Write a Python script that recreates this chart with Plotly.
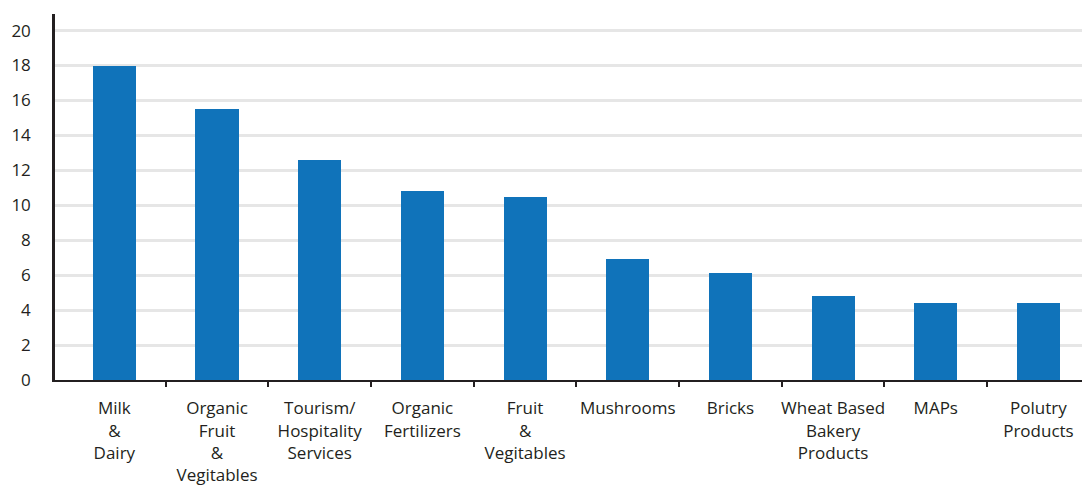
import plotly.graph_objects as go

categories = ["Milk<br>&<br>Dairy", "Organic<br>Fruit<br>&<br>Vegitables", "Tourism/<br>Hospitality<br>Services",
              "Organic<br>Fertilizers", "Fruit<br>&<br>Vegitables", "Mushrooms", "Bricks",
              "Wheat Based<br>Bakery<br>Products", "MAPs", "Polutry<br>Products"]
values = [18.0, 15.5, 12.6, 10.8, 10.5, 6.9, 6.1, 4.8, 4.4, 4.4]
y_ticks = [0, 2, 4, 6, 8, 10, 12, 14, 16, 18, 20]

xpos = list(range(len(categories)))
boundaries = [i + 0.5 for i in range(len(categories) - 1)]

FONT = "Open Sans"
fig = go.Figure()
fig.add_trace(go.Bar(x=xpos, y=values, width=0.42, marker=dict(color="#1073BA", line=dict(width=0)),
                     showlegend=False, hoverinfo="skip"))
# invisible trace to carry the boundary-tick axis
fig.add_trace(go.Scatter(x=[xpos[0], xpos[-1]], y=[0, 0], xaxis="x2", mode="markers",
                         marker=dict(opacity=0), showlegend=False, hoverinfo="skip"))

xr = [-0.578, 9.424]
fig.update_layout(
    width=1082, height=486,
    margin=dict(l=55, r=0, t=14, b=106),
    paper_bgcolor="white", plot_bgcolor="white",
    font=dict(family=FONT, color="#231f20"),
    xaxis=dict(range=xr, tickmode="array", tickvals=xpos, ticktext=categories,
               ticks="", showgrid=False, zeroline=False,
               showline=True, linecolor="#231f20", linewidth=2,
               tickfont=dict(size=17, family=FONT, color="#231f20"), ticklabelstandoff=12),
    xaxis2=dict(range=xr, overlaying="x", side="bottom", tickmode="array", tickvals=boundaries,
                ticktext=[""] * len(boundaries), ticks="outside", ticklen=6, tickwidth=2,
                tickcolor="#231f20", showgrid=False, zeroline=False, showline=False),
    yaxis=dict(range=[0, 20.95], tickmode="array", tickvals=y_ticks, ticks="",
               showgrid=True, gridcolor="#e6e6e6", gridwidth=2.5, zeroline=False,
               showline=True, linecolor="#231f20", linewidth=2.5,
               tickfont=dict(size=17, family=FONT, color="#231f20"), ticklabelstandoff=18),
    bargap=0,
)
fig.write_html("out.html")
